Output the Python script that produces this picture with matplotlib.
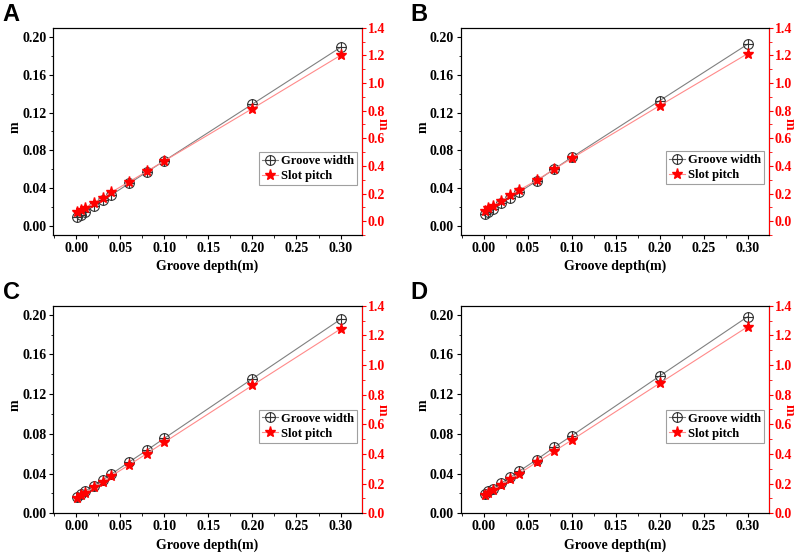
import matplotlib
matplotlib.use("Agg")
import matplotlib.pyplot as plt
from matplotlib.path import Path
from matplotlib.ticker import MultipleLocator

plt.rcParams['font.family'] = ['Liberation Serif', 'DejaVu Serif']
plt.rcParams['font.weight'] = 'bold'

depth = [0.001, 0.005, 0.01, 0.02, 0.03, 0.04, 0.06, 0.08, 0.1, 0.2, 0.3]

width_A = [0.0096, 0.012, 0.015, 0.021, 0.027, 0.033, 0.045, 0.057, 0.069, 0.129, 0.189]
pitch_A = [0.065, 0.08, 0.095, 0.135, 0.17, 0.21, 0.285, 0.36, 0.436, 0.815, 1.20]

width_B = [0.0127, 0.015, 0.0177, 0.024, 0.030, 0.0357, 0.0476, 0.0603, 0.0727, 0.1326, 0.1923]
pitch_B = [0.075, 0.094, 0.111, 0.147, 0.188, 0.224, 0.296, 0.376, 0.455, 0.836, 1.212]

width_C = [0.0164, 0.0194, 0.0221, 0.0278, 0.0335, 0.0396, 0.0516, 0.0634, 0.0755, 0.1355, 0.1953]
pitch_C = [0.103, 0.121, 0.137, 0.175, 0.213, 0.252, 0.326, 0.402, 0.479, 0.863, 1.243]

width_D = [0.0194, 0.0221, 0.0245, 0.0305, 0.0362, 0.0423, 0.054, 0.0664, 0.0781, 0.1382, 0.1979]
pitch_D = [0.121, 0.137, 0.155, 0.193, 0.231, 0.267, 0.344, 0.418, 0.494, 0.877, 1.258]

panels = [
    ('A', width_A, pitch_A, [53.3, 27.7, 361.7, 235.0], (-0.0095, 0.2098), (-0.10, 1.40), 0.40, 0.535),
    ('B', width_B, pitch_B, [461.0, 27.7, 768.7, 235.0], (-0.0095, 0.2098), (-0.10, 1.40), 0.405, 0.535),
    ('C', width_C, pitch_C, [53.3, 305.7, 361.7, 513.3], (0.0, 0.209), (0.0, 1.40), 0.50, 0.50),
    ('D', width_D, pitch_D, [461.0, 305.7, 768.7, 513.3], (0.0, 0.209), (0.0, 1.40), 0.50, 0.50),
]

# circle with a cross inside (hollow)
oplus = Path.make_compound_path(
    Path.unit_circle(),
    Path([[-1, 0], [1, 0]], [Path.MOVETO, Path.LINETO]),
    Path([[0, -1], [0, 1]], [Path.MOVETO, Path.LINETO]),
)

W, H = 796, 556
fig = plt.figure(figsize=(W / 100, H / 100), dpi=100)

for label, gw, sp, box, ylim_l, ylim_r, leg_y, m_y in panels:
    x0, y0, x1, y1 = box
    ax = fig.add_axes([x0 / W, 1 - y1 / H, (x1 - x0) / W, (y1 - y0) / H])
    ax2 = ax.twinx()

    l1, = ax.plot(depth, gw, color='#808080', lw=0.8, marker=oplus,
                  markersize=7, markeredgewidth=0.8, mfc='none', mec='#333333')
    l2, = ax2.plot(depth, sp, color='#ff8a8a', lw=0.8, marker='*',
                   markersize=8, mec='red', mfc='red')

    ax.set_xlim(-0.026, 0.324)
    ax.set_ylim(*ylim_l)
    ax2.set_ylim(*ylim_r)
    ax.xaxis.set_major_locator(MultipleLocator(0.05))
    ax.xaxis.set_minor_locator(MultipleLocator(0.025))
    ax.yaxis.set_major_locator(MultipleLocator(0.04))
    ax.yaxis.set_minor_locator(MultipleLocator(0.02))
    ax2.yaxis.set_major_locator(MultipleLocator(0.2))
    ax2.yaxis.set_minor_locator(MultipleLocator(0.1))
    ax.xaxis.set_major_formatter(plt.FormatStrFormatter('%.2f'))
    ax.yaxis.set_major_formatter(plt.FormatStrFormatter('%.2f'))
    ax2.yaxis.set_major_formatter(plt.FormatStrFormatter('%.1f'))

    ax.tick_params(axis='both', which='major', direction='out', length=3, width=0.8,
                   labelsize=10, pad=2, top=False, right=False)
    ax.tick_params(axis='both', which='minor', direction='out', length=1.8, width=0.6,
                   top=False, right=False)
    ax2.tick_params(axis='y', which='major', direction='out', length=3, width=0.8,
                    labelsize=10, pad=1.5, colors='red')
    ax2.tick_params(axis='y', which='minor', direction='out', length=1.8, width=0.6,
                    colors='red')
    ax2.spines['right'].set_color('red')
    for s in ['left', 'bottom', 'top']:
        ax.spines[s].set_linewidth(0.8)
    ax2.spines['right'].set_linewidth(0.8)

    ax.set_xlabel('Groove depth(m)', fontsize=10, fontweight='bold')
    ax.xaxis.label.set_va('center')
    ax.xaxis.set_label_coords(0.5, -0.153)
    ax.set_ylabel('m', fontsize=10, fontweight='bold')
    ax.yaxis.label.set_va('center')
    ax.yaxis.set_label_coords(-0.123, 0.52)
    ax2.set_ylabel('m', fontsize=10, fontweight='bold', color='red', rotation=270)
    ax2.yaxis.label.set_va('center')
    ax2.yaxis.set_label_coords(1.066, m_y)

    leg = ax.legend([l1, l2], ['Groove width', 'Slot pitch'], loc='upper right',
                    bbox_to_anchor=(0.985, leg_y), borderaxespad=0, fontsize=9,
                    handlelength=1.3, handletextpad=0.2, borderpad=0.25,
                    labelspacing=0.25, fancybox=False, framealpha=1,
                    edgecolor='#a0a0a0')
    leg.get_frame().set_linewidth(0.8)
    leg.set_zorder(10)

    fig.text((x0 - 50.5) / W, 1 - (y0 - 24.4) / H, label, fontsize=17,
             fontweight='bold', family='Liberation Sans', va='top', ha='left')

fig.savefig('out.png', dpi=100)
